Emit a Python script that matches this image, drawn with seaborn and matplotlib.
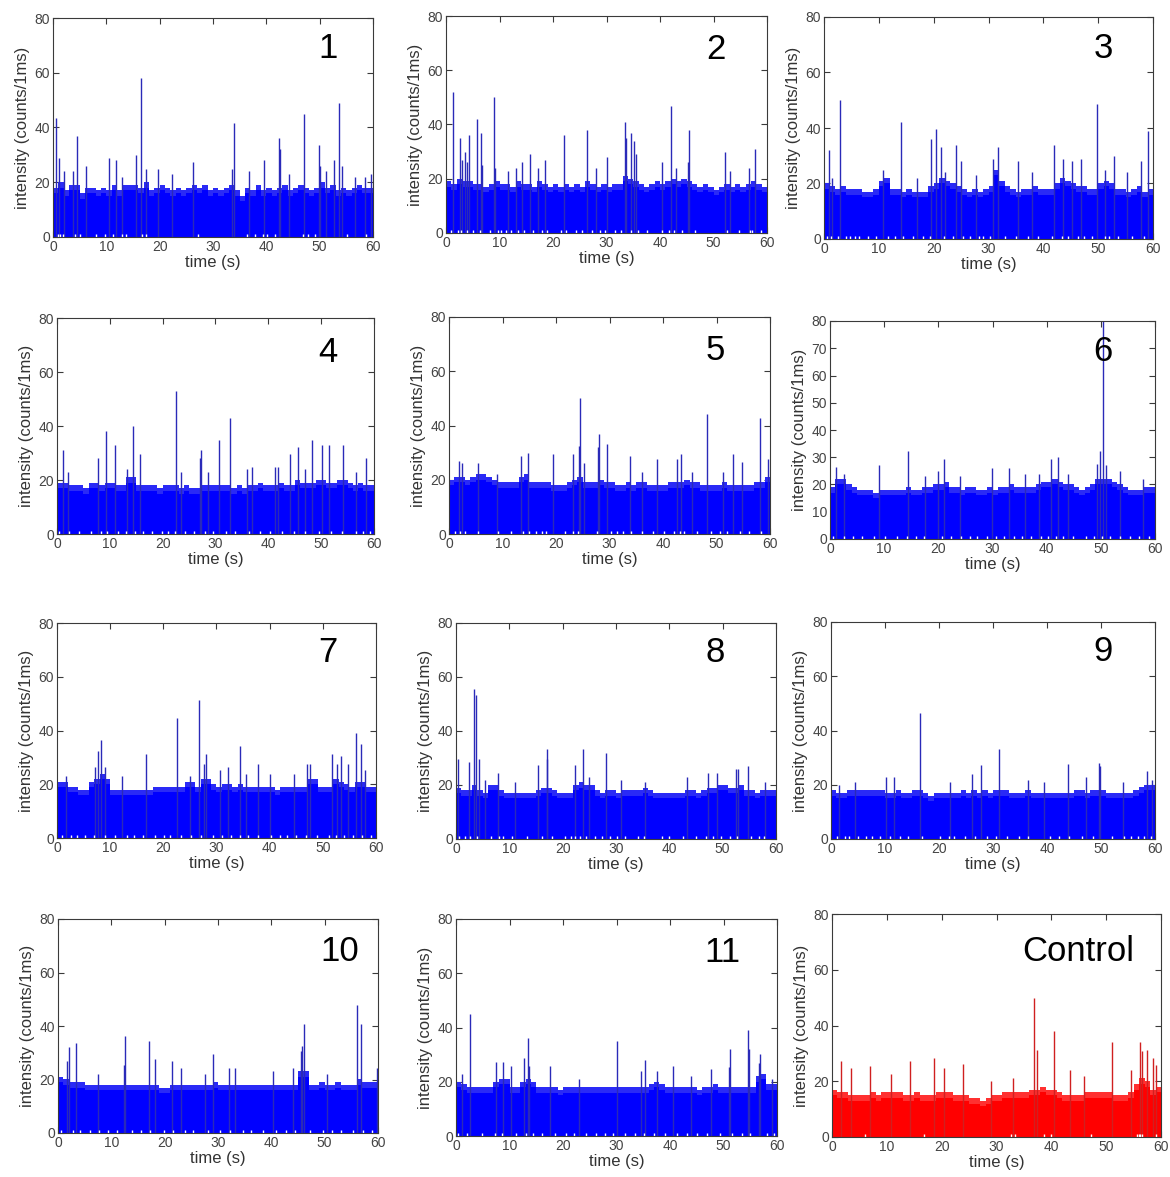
import numpy as np
import pandas as pd
import matplotlib
matplotlib.use("Agg")
import matplotlib.pyplot as plt
import seaborn as sns

# time axis: one value per second, 0..59 s
seconds = np.arange(60) + 0.5

# upper edge of the dense noise band, read per second (counts/1ms)
p1_env = [18, 20, 17, 19, 19, 16, 18, 18, 17, 18, 17, 19, 17, 19, 19, 19, 18, 20, 17, 18,
          19, 18, 17, 18, 17, 18, 19, 18, 19, 17, 18, 17, 18, 19, 17, 15, 18, 17, 19, 17,
          18, 17, 18, 19, 17, 18, 19, 18, 17, 18, 20, 18, 19, 17, 18, 17, 18, 19, 18, 18]
p2_env = [19, 18, 20, 19, 19, 18, 18, 17, 18, 19, 18, 18, 17, 19, 18, 18, 17, 19, 18, 17,
          18, 17, 18, 17, 18, 17, 19, 18, 17, 18, 17, 18, 18, 21, 20, 19, 18, 17, 18, 19,
          18, 19, 20, 19, 20, 19, 18, 17, 18, 17, 16, 17, 18, 17, 18, 17, 18, 19, 18, 17]
p3_env = [20, 19, 18, 19, 18, 18, 18, 17, 17, 18, 21, 22, 18, 18, 17, 18, 17, 17, 17, 19,
          20, 22, 21, 20, 19, 18, 17, 18, 17, 18, 19, 25, 21, 19, 18, 17, 18, 18, 19, 18,
          18, 18, 20, 22, 21, 20, 19, 19, 18, 18, 20, 21, 20, 18, 18, 17, 18, 19, 17, 18]
p4_env = [19, 19, 18, 18, 18, 17, 19, 19, 18, 19, 19, 18, 18, 21, 21, 18, 18, 18, 18, 17,
          18, 18, 18, 17, 18, 17, 17, 18, 18, 18, 18, 18, 18, 17, 18, 17, 18, 18, 19, 18,
          18, 18, 19, 18, 18, 20, 19, 19, 19, 20, 20, 19, 19, 20, 20, 19, 18, 19, 18, 18]
p5_env = [20, 21, 21, 20, 21, 22, 22, 21, 20, 19, 19, 19, 19, 21, 22, 19, 19, 19, 19, 18,
          18, 18, 19, 20, 21, 19, 19, 19, 20, 19, 19, 18, 18, 19, 18, 19, 19, 18, 18, 18,
          18, 19, 19, 19, 20, 19, 19, 18, 18, 18, 18, 19, 18, 18, 18, 18, 18, 19, 19, 21]
p6_env = [19, 22, 22, 20, 19, 18, 18, 18, 17, 18, 18, 18, 18, 18, 19, 18, 18, 19, 19, 20,
          20, 21, 19, 19, 18, 19, 19, 18, 18, 19, 18, 19, 19, 20, 19, 19, 19, 19, 20, 21,
          21, 22, 21, 20, 20, 19, 18, 19, 20, 22, 22, 22, 21, 20, 19, 18, 18, 18, 19, 19]
p7_env = [21, 21, 19, 19, 18, 18, 21, 22, 24, 22, 18, 18, 18, 18, 18, 18, 18, 18, 19, 19,
          19, 19, 19, 19, 21, 21, 19, 22, 22, 20, 19, 20, 20, 19, 20, 19, 19, 19, 19, 19,
          19, 18, 19, 19, 19, 19, 19, 22, 22, 19, 19, 19, 22, 21, 20, 19, 21, 21, 19, 19]
p8_env = [19, 18, 18, 20, 18, 17, 20, 20, 18, 17, 17, 17, 17, 17, 17, 18, 19, 19, 18, 17,
          17, 17, 20, 21, 20, 20, 18, 17, 18, 18, 17, 18, 18, 18, 18, 19, 18, 17, 17, 17,
          17, 17, 17, 18, 18, 17, 18, 19, 19, 20, 20, 19, 19, 20, 18, 18, 17, 18, 18, 18]
p9_env = [18, 17, 17, 18, 18, 18, 18, 18, 18, 18, 17, 17, 18, 17, 17, 18, 18, 17, 16, 17,
          17, 17, 17, 17, 18, 17, 18, 17, 18, 17, 18, 18, 18, 17, 17, 17, 18, 17, 17, 17,
          17, 17, 17, 17, 17, 18, 18, 17, 18, 18, 18, 17, 17, 17, 17, 17, 18, 19, 20, 20]
p10_env = [21, 20, 19, 19, 19, 18, 18, 18, 18, 18, 18, 18, 18, 18, 18, 18, 18, 18, 18, 17,
           17, 18, 18, 18, 18, 18, 18, 18, 18, 19, 18, 18, 18, 18, 18, 18, 18, 18, 18, 18,
           18, 18, 18, 18, 18, 23, 23, 18, 18, 19, 18, 18, 19, 18, 18, 18, 20, 19, 19, 19]
p11_env = [20, 19, 18, 18, 18, 18, 18, 20, 21, 21, 18, 18, 20, 21, 20, 18, 18, 18, 18, 17,
           18, 18, 18, 18, 18, 18, 18, 18, 18, 18, 18, 18, 18, 18, 18, 18, 19, 20, 19, 18,
           18, 18, 18, 18, 18, 17, 18, 18, 19, 18, 18, 18, 18, 18, 18, 18, 22, 23, 19, 19]
ctrl_env = [17, 16, 16, 15, 15, 15, 15, 16, 15, 16, 16, 16, 16, 15, 15, 16, 15, 15, 15, 16,
            16, 16, 15, 15, 15, 14, 14, 13, 14, 15, 15, 16, 16, 16, 16, 16, 17, 17, 18, 17,
            17, 16, 15, 15, 15, 15, 16, 16, 16, 16, 16, 15, 15, 15, 16, 19, 21, 20, 17, 18]

# bursts above the band: (time s, counts/1ms)
p1_spikes = [(0.6, 43.5), (1.1, 29), (2.0, 24), (3.8, 24), (4.5, 37), (6.2, 26), (10.5, 29),
             (11.8, 28), (13.0, 22), (15.5, 30), (16.5, 58), (17.4, 25), (19.7, 25), (22.3, 23),
             (26.2, 27.5), (33.6, 25), (34.0, 41.5), (36.7, 24), (39.5, 28), (42.3, 36),
             (42.6, 32), (44.3, 23), (47.0, 45), (49.8, 33.5), (50.1, 26), (51.2, 24),
             (52.7, 28), (53.6, 49), (54.2, 26), (56.6, 22), (58.5, 22), (59.6, 23)]
p2_spikes = [(1.4, 52), (2.6, 35), (2.9, 27), (3.5, 30), (4.0, 26), (4.3, 36), (5.8, 42),
             (6.6, 37), (6.8, 25), (9.0, 50), (9.2, 24), (11.5, 23), (13.0, 24), (14.2, 26),
             (15.7, 29), (17.2, 24), (18.5, 27), (22.1, 36), (26.4, 38), (28.0, 24), (30.0, 28),
             (33.4, 41), (33.6, 35), (34.5, 37), (35.1, 34), (35.5, 29), (40.4, 26), (42.1, 47),
             (43.0, 24), (45.2, 26), (45.5, 38), (52.1, 30), (53.0, 23), (56.7, 24), (57.8, 31)]
p3_spikes = [(0.85, 32), (1.5, 22), (2.9, 50), (14.0, 42), (10.8, 25), (17.0, 22), (19.6, 36),
             (20.5, 39.7), (21.3, 33), (22.0, 24), (24.0, 34), (24.9, 28), (27.8, 23),
             (30.9, 29), (31.7, 33), (35.3, 28), (38.0, 24), (41.9, 34), (43.6, 29), (45.3, 28),
             (46.9, 29), (49.7, 48.7), (51.3, 25), (52.8, 30), (55.2, 24), (57.8, 28), (59.1, 38.8)]
p4_spikes = [(1.07, 31), (2.0, 23), (7.75, 28), (9.2, 38), (11.0, 33), (13.3, 24), (14.3, 40),
             (15.75, 29.5), (22.5, 52.8), (23.5, 23), (27.0, 28), (27.2, 31), (28.6, 23),
             (30.7, 35), (32.7, 43), (36.0, 24), (37.0, 25), (41.3, 25), (41.8, 25), (44.1, 29.5),
             (45.7, 32.4), (47.0, 24), (48.2, 35), (50.2, 33), (51.5, 33), (54.1, 33),
             (56.5, 23), (58.4, 28)]
p5_spikes = [(1.8, 27), (2.5, 26), (5.4, 26), (9.0, 22), (13.5, 28.7), (14.8, 30), (19.5, 29.5),
             (23.2, 29.5), (24.3, 32.4), (24.4, 50), (25.2, 26), (27.9, 32), (28.1, 37),
             (29.6, 33), (33.9, 28.7), (36.0, 23), (38.8, 27.5), (42.7, 27.5), (43.4, 29.5),
             (45.5, 23), (48.3, 44.4), (51.2, 23), (53.0, 29.5), (54.7, 26.5), (58.1, 42.6),
             (59.7, 27.5)]
p6_spikes = [(1.05, 26.5), (2.5, 24), (9.1, 27.3), (14.35, 32.2), (17.5, 23), (19.9, 25),
             (21.1, 29.3), (24.0, 23), (29.9, 25.9), (33.1, 25.9), (36.0, 24), (38.5, 24),
             (40.8, 29.3), (42.1, 30), (44.0, 24), (49.3, 27.7), (49.8, 32.2), (50.4, 95),
             (51.0, 27.3), (53.5, 25), (57.8, 22)]
p7_spikes = [(1.7, 23), (7.1, 26.4), (7.7, 32.3), (8.3, 36.4), (9.0, 26.4), (12.3, 23),
             (16.7, 31.4), (22.5, 44.7), (25.0, 23), (26.8, 51.5), (27.6, 27.7), (28.0, 31.4),
             (30.6, 25.2), (32.1, 26.4), (34.4, 34.2), (35.5, 24), (37.8, 27.7), (40.0, 24),
             (44.5, 24), (47.1, 27.7), (47.6, 27.7), (51.8, 31.4), (52.6, 27.7), (53.4, 30.5),
             (54.8, 27.7), (56.2, 39), (57.1, 35.1), (58.0, 25.2)]
p8_spikes = [(0.4, 29.5), (2.4, 28.6), (3.4, 55.7), (3.7, 53.3), (4.4, 29.5), (5.5, 22),
             (7.8, 24.3), (11.0, 21), (15.3, 27.4), (17.0, 29.5), (17.1, 33.3), (22.4, 27.4),
             (23.8, 33.3), (24.9, 23), (28.2, 31.7), (31.0, 22), (35.5, 21), (43.3, 23),
             (47.2, 24.3), (49.0, 24.3), (52.5, 26), (52.9, 26), (54.8, 27.1), (58.0, 21)]
p9_spikes = [(1.5, 20), (4.5, 21), (10.2, 22.8), (11.7, 22.8), (16.4, 46.3), (22.0, 21),
             (26.2, 24), (27.7, 27.1), (31.2, 33.2), (36.5, 21.8), (39.5, 21), (43.8, 27.6),
             (47.2, 23), (49.6, 28.2), (49.9, 27), (54.0, 21), (58.5, 24.9), (59.5, 21.8)]
p10_spikes = [(1.6, 26.8), (2.0, 32.1), (3.3, 33.6), (7.5, 22), (12.4, 25.5), (12.5, 36.4),
              (17.0, 34.5), (18.1, 27.6), (21.3, 26.8), (23.0, 24.3), (27.5, 22), (29.1, 29.6),
              (32.1, 24.3), (33.1, 24.3), (40.4, 23), (44.0, 24.3), (45.5, 30.5), (45.8, 32.4),
              (46.1, 40.8), (50.5, 22), (56.1, 47.7), (56.9, 40.8), (59.9, 24.3)]
p11_spikes = [(1.2, 22.8), (2.7, 45), (7.4, 27.4), (8.7, 27.4), (10.2, 25.9), (12.8, 28.9),
              (13.4, 36), (13.6, 25.9), (17.6, 25.9), (23.0, 21), (30.0, 35), (34.5, 23.9),
              (35.4, 28.2), (37.5, 23.9), (40.6, 25.9), (44.0, 22), (47.6, 24.7), (51.0, 25.3),
              (51.3, 31.9), (54.5, 39.1), (54.8, 31.9), (56.7, 27), (56.9, 30.2), (59.0, 21)]
ctrl_spikes = [(1.6, 27.3), (3.5, 24.9), (6.9, 25.6), (10.8, 22.6), (14.2, 27.3), (18.6, 28.3),
               (20.4, 24.7), (23.8, 26.1), (29.0, 20), (33.0, 21), (36.8, 50), (37.4, 31.3),
               (40.4, 38), (43.4, 24.1), (46.0, 22), (51.1, 34), (54.5, 24.1), (56.2, 34),
               (56.5, 30.9), (57.5, 31.3), (58.5, 28.3), (59.1, 25.9)]

# zero-count bins visible as white nicks along the baseline (time s)
p1_gaps = [0.9, 1.3, 1.9, 4.1, 5.0, 8.1, 9.7, 11.3, 13.0, 13.7, 16.6, 17.4, 27.2, 36.3, 37.9,
           39.4, 40.1, 41.6, 46.8, 47.9, 49.2, 55.1, 58.7]
p2_gaps = [1.0, 2.2, 2.8, 4.0, 5.1, 6.4, 8.2, 9.7, 10.3, 11.2, 12.1, 13.4, 14.6, 16.3, 17.9,
           18.9, 21.5, 22.5, 24.3, 25.4, 27.2, 28.7, 29.8, 31.5, 32.7, 34.5, 35.8, 37.5, 40.3,
           41.7, 42.6, 44.1, 46.5, 52.6, 54.8, 56.8, 57.2, 58.8]
p3_gaps = [0.5, 1.2, 2.6, 4.1, 4.8, 5.6, 6.3, 8.0, 9.4, 11.6, 13.0, 14.4, 16.2, 18.1, 19.4,
           21.8, 23.5, 25.4, 26.7, 28.2, 29.0, 30.3, 33.0, 35.1, 37.2, 39.0, 41.5, 43.4, 44.5,
           46.3, 47.5, 48.8, 51.3, 52.0, 53.6, 56.2, 58.4]
p4_gaps = [0.4, 2.3, 4.2, 6.5, 8.3, 9.4, 11.6, 13.1, 14.7, 16.2, 18.0, 19.8, 21.0, 22.4,
           24.3, 25.9, 28.0, 29.5, 31.9, 33.7, 36.3, 38.4, 40.3, 42.5, 44.8, 47.0, 49.5, 51.8,
           53.9, 56.5, 57.9, 59.2]
p5_gaps = [1.2, 2.0, 3.0, 5.5, 9.2, 11.5, 13.8, 15.0, 16.2, 17.4, 18.2, 21.7, 23.2, 24.1,
           27.6, 30.2, 31.4, 32.6, 34.1, 36.0, 38.2, 40.1, 42.0, 43.2, 44.0, 46.3, 49.0,
           50.6, 52.0, 54.3, 56.0, 58.3]
p6_gaps = [0.6, 2.5, 4.2, 5.9, 8.1, 10.2, 12.3, 14.2, 15.8, 17.4, 20.6, 22.4, 24.1, 25.9,
           27.2, 29.0, 30.6, 32.2, 34.0, 35.5, 37.1, 38.9, 40.2, 41.8, 43.0, 44.9, 47.2, 48.8,
           50.3, 51.6, 53.5, 55.4, 57.1, 58.8]
p7_gaps = [1.0, 2.6, 3.8, 5.3, 6.9, 9.1, 11.0, 13.2, 14.4, 16.2, 18.4, 20.1, 21.2, 23.4,
           25.2, 27.1, 29.4, 31.0, 32.8, 34.5, 36.0, 37.8, 40.3, 41.9, 43.3, 45.0, 46.8, 48.9,
           51.2, 52.5, 54.0, 55.7, 57.3, 59.0]
p8_gaps = [0.5, 1.6, 2.6, 4.0, 6.6, 8.1, 8.8, 10.5, 13.3, 16.2, 18.0, 20.4, 21.5, 22.4,
           23.2, 24.3, 26.0, 27.4, 28.9, 30.1, 31.6, 34.1, 35.2, 38.6, 40.0, 42.5, 45.0, 46.8,
           48.2, 49.6, 51.4, 52.7, 55.3, 56.8, 57.7]
p9_gaps = [1.1, 2.5, 3.4, 5.0, 6.5, 7.6, 9.0, 10.9, 12.8, 14.2, 16.9, 20.2, 21.8, 22.7,
           24.9, 26.7, 28.9, 30.5, 32.6, 34.8, 36.4, 40.5, 42.3, 44.0, 46.4, 48.5, 52.1,
           54.3, 55.6, 56.9, 58.0, 59.3]
p10_gaps = [0.5, 2.8, 4.2, 6.0, 7.6, 9.3, 11.0, 13.8, 15.5, 17.3, 19.8, 21.6, 23.9, 25.4,
            28.2, 30.4, 32.3, 34.7, 36.2, 38.4, 40.9, 42.7, 44.5, 47.2, 49.6, 51.3, 53.0,
            55.3, 57.2, 58.8]
p11_gaps = [0.4, 2.0, 4.8, 7.3, 8.6, 11.3, 13.0, 14.4, 16.1, 18.5, 20.6, 22.0, 24.3, 26.1,
            27.8, 29.4, 31.5, 33.4, 35.2, 37.0, 39.1, 41.3, 43.2, 45.0, 46.9, 49.3, 51.6,
            53.4, 55.0, 58.2, 59.4]
ctrl_gaps = [6.0, 16.8, 32.6, 33.4, 38.6, 40.0, 47.2, 55.6, 55.9, 56.2, 56.5, 59.0]

labels = ["1", "2", "3", "4", "5", "6", "7", "8", "9", "10", "11", "Control"]
envs = [p1_env, p2_env, p3_env, p4_env, p5_env, p6_env, p7_env, p8_env, p9_env,
        p10_env, p11_env, ctrl_env]
spikes = [p1_spikes, p2_spikes, p3_spikes, p4_spikes, p5_spikes, p6_spikes, p7_spikes,
          p8_spikes, p9_spikes, p10_spikes, p11_spikes, ctrl_spikes]
gaps = [p1_gaps, p2_gaps, p3_gaps, p4_gaps, p5_gaps, p6_gaps, p7_gaps, p8_gaps, p9_gaps,
        p10_gaps, p11_gaps, ctrl_gaps]

# axes boxes in pixels: left, top, right, bottom
boxes = [(53, 18, 373, 237), (446, 16, 767, 233), (824, 17, 1153, 239),
         (57, 318, 374, 534), (449, 317, 770, 534), (830, 321, 1155, 539),
         (57, 623, 376, 838), (456, 623, 776, 839), (831, 622, 1155, 839),
         (58, 919, 378, 1133), (456, 919, 777, 1136), (832, 914, 1161, 1137)]
label_xy = [(0.86, 0.86), (0.84, 0.845), (0.85, 0.86), (0.855, 0.84), (0.83, 0.845),
            (0.84, 0.862), (0.85, 0.865), (0.81, 0.865), (0.84, 0.862), (0.88, 0.846),
            (0.83, 0.846), (0.75, 0.83)]

W, H = 1170, 1177
sns.set_theme(style="ticks")
plt.rcParams["font.family"] = ["Liberation Sans", "DejaVu Sans"]

fig = plt.figure(figsize=(W / 100, H / 100), dpi=100)
fig.patch.set_facecolor("white")

frame_col = "#3a3a3a"
for i in range(12):
    l, t, r, b = boxes[i]
    ax = fig.add_axes([l / W, 1 - b / H, (r - l) / W, (b - t) / H])
    ax.set_facecolor("white")
    control = labels[i] == "Control"
    body = "#ff0000" if control else "#0000ff"
    fringe = "#ff3030" if control else "#2a2af6"
    line = "#d02020" if control else "#2a2ab8"

    band = pd.DataFrame({"time": seconds, "counts": envs[i]})
    band["core"] = band["counts"] - 2
    # thinly covered top of the noise band, then the solid core
    sns.histplot(data=band, x="time", weights="counts", bins=60, binrange=(0, 60),
                 element="step", fill=True, color=fringe, alpha=1, linewidth=0, ax=ax)
    sns.histplot(data=band, x="time", weights="core", bins=60, binrange=(0, 60),
                 element="step", fill=True, color=body, alpha=1, linewidth=0, ax=ax)
    st = [s[0] for s in spikes[i]]
    sh = [s[1] for s in spikes[i]]
    ax.vlines(st, 0, sh, color=line, lw=1.0)
    ax.vlines(gaps[i], 0, 1.1, color="white", lw=1.0)

    ax.set_xlim(0, 60)
    ax.set_ylim(0, 80)
    ax.set_xticks(range(0, 61, 10))
    if labels[i] == "6":
        ax.set_yticks(range(0, 81, 10))
    else:
        ax.set_yticks(range(0, 81, 20))
    ax.tick_params(direction="in", top=True, right=True, length=4, width=0.8,
                   labelsize=10, color=frame_col, labelcolor="#444444", pad=2)
    for sp in ax.spines.values():
        sp.set_visible(True)
        sp.set_color(frame_col)
        sp.set_linewidth(0.8)
    ax.set_xlabel("time (s)", fontsize=12, color="#333333", labelpad=1)
    ax.set_ylabel("intensity (counts/1ms)", fontsize=12, color="#333333", labelpad=3)
    ax.text(label_xy[i][0], label_xy[i][1], labels[i], transform=ax.transAxes,
            fontsize=25, ha="center", va="center", color="black", zorder=5)

fig.savefig("out.png", dpi=100, facecolor="white")
